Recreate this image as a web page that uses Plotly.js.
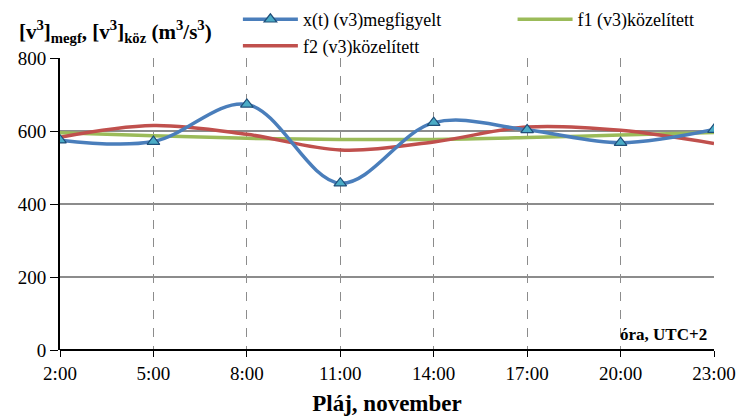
<!DOCTYPE html>
<html><head><meta charset="utf-8">
<script src="https://cdn.plot.ly/plotly-3.0.1.min.js"></script>
<style>body{margin:0;background:#fff}#c{width:740px;height:420px}</style>
</head><body><div id="c"></div>
<script>
var hours = ["2:00","5:00","8:00","11:00","14:00","17:00","20:00","23:00"];
var observed = [575, 571, 673, 457, 623, 603, 568, 604];
var f1 = [595, 587, 580, 577, 577, 582, 589, 596];
var f2 = [583, 615, 591, 548, 570, 611, 602, 566];

var F = "Liberation Serif";
var traces = [
  {x: hours, y: f1, name: "f1 (v3)közelített", type: "scatter", mode: "lines", legend: "legend2",
   line: {color: "#9BBB59", width: 3.5, shape: "spline", smoothing: 1}},
  {x: hours, y: f2, name: "f2 (v3)közelített", type: "scatter", mode: "lines", legendrank: 2,
   line: {color: "#C0504D", width: 3.5, shape: "spline", smoothing: 1}},
  {x: hours, y: observed, name: "x(t) (v3)megfigyelt", type: "scatter", mode: "lines+markers", legendrank: 1,
   line: {color: "#4A7EBB", width: 3.5, shape: "spline", smoothing: 1},
   marker: {symbol: "triangle-up", size: 11, color: "#4BACC6", line: {color: "#1F4E79", width: 1.2}}}
];
var legFont = {family: F, size: 18, color: "#000"};
var layout = {
  width: 740, height: 420,
  margin: {l: 60, r: 26, t: 58, b: 70, autoexpand: false},
  paper_bgcolor: "#fff", plot_bgcolor: "#fff",
  font: {family: F, size: 19, color: "#000"},
  showlegend: true,
  legend: {orientation: "v", x: 0.272, xanchor: "left", y: 1.195, yanchor: "top",
           font: legFont, itemwidth: 55, tracegroupgap: 0, bgcolor: "rgba(0,0,0,0)"},
  legend2: {orientation: "v", x: 0.692, xanchor: "left", y: 1.195, yanchor: "top",
           font: legFont, itemwidth: 55, bgcolor: "rgba(0,0,0,0)"},
  xaxis: {type: "category", range: [0, 7], showgrid: true, gridcolor: "#8c8c8c", griddash: "dash", gridwidth: 1.3,
          ticks: "outside", ticklen: 6, tickcolor: "#000", showline: false, zeroline: false,
          tickfont: {family: F, size: 19, color: "#000"},
          title: {text: "<b>Pláj, november</b>", font: {family: F, size: 23, color: "#000"}, standoff: 12}},
  yaxis: {range: [0, 800], dtick: 200, showgrid: true, gridcolor: "#8c8c8c", gridwidth: 1.5,
          showline: true, linecolor: "#000", linewidth: 2, ticks: "outside", ticklen: 8, tickcolor: "#000",
          zeroline: true, zerolinecolor: "#000", zerolinewidth: 2, tickfont: {family: F, size: 19, color: "#000"}},
  annotations: [
    {text: "<b>[v<sup>3</sup>]<sub>megf</sub>, [v<sup>3</sup>]<sub>köz</sub> (m<sup>3</sup>/s<sup>3</sup>)</b>",
     xref: "paper", yref: "paper", x: -0.066, y: 1.09, xanchor: "left", yanchor: "middle", showarrow: false,
     font: {family: F, size: 21, color: "#000"}},
    {text: "<b>óra, UTC+2</b>", xref: "paper", yref: "paper", x: 0.992, y: 0.012, xanchor: "right", yanchor: "bottom",
     showarrow: false, font: {family: F, size: 17, color: "#000"}}
  ]
};
Plotly.newPlot("c", traces, layout, {displayModeBar: false});
</script></body></html>
